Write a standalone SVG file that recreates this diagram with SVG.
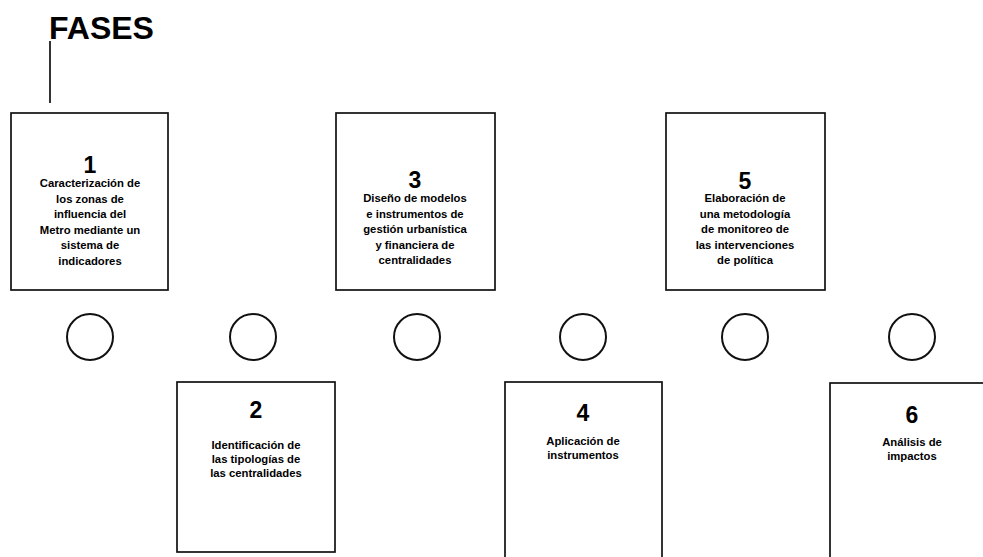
<svg xmlns="http://www.w3.org/2000/svg" width="983" height="557" viewBox="0 0 983 557">
<style>
.box{fill:#fff;stroke:#111;stroke-width:1.7}
.dot{fill:#fff;stroke:#111;stroke-width:2}
.num{font-family:"Liberation Sans",Arial,sans-serif;font-weight:bold;font-size:23px;fill:#000;text-anchor:middle}
.lbl{font-family:"Liberation Sans",Arial,sans-serif;font-weight:bold;font-size:11.3px;fill:#000;text-anchor:middle}
.title{font-family:"Liberation Sans",Arial,sans-serif;font-weight:bold;font-size:32px;fill:#000}
</style>
<rect width="983" height="557" fill="#fff"/>
<text class="title" x="49" y="39">FASES</text>
<g id="connectors">
<line x1="50" y1="41" x2="50" y2="103" stroke="#111" stroke-width="1.7"/>
</g>
<g id="phase1">
<rect class="box" x="11" y="113" width="157" height="177"/>
<text class="num" x="90" y="173">1</text>
<text class="lbl" x="90" y="187">Caracterización de</text>
<text class="lbl" x="90" y="202.5">los zonas de</text>
<text class="lbl" x="90" y="218">influencia del</text>
<text class="lbl" x="90" y="233.5">Metro mediante un</text>
<text class="lbl" x="90" y="249">sistema de</text>
<text class="lbl" x="90" y="264.5">indicadores</text>
</g>
<g id="phase3">
<rect class="box" x="336" y="113" width="159" height="177"/>
<text class="num" x="415" y="188">3</text>
<text class="lbl" x="415" y="202">Diseño de modelos</text>
<text class="lbl" x="415" y="217.5">e instrumentos de</text>
<text class="lbl" x="415" y="233">gestión urbanística</text>
<text class="lbl" x="415" y="248.5">y financiera de</text>
<text class="lbl" x="415" y="264">centralidades</text>
</g>
<g id="phase5">
<rect class="box" x="666" y="113" width="159" height="177"/>
<text class="num" x="745" y="189">5</text>
<text class="lbl" x="745" y="202">Elaboración de</text>
<text class="lbl" x="745" y="217.5">una metodología</text>
<text class="lbl" x="745" y="233">de monitoreo de</text>
<text class="lbl" x="745" y="248.5">las intervenciones</text>
<text class="lbl" x="745" y="264">de política</text>
</g>
<g id="markers">
<circle class="dot" cx="90" cy="337" r="23"/>
<circle class="dot" cx="253" cy="337" r="23"/>
<circle class="dot" cx="417" cy="337" r="23"/>
<circle class="dot" cx="583" cy="337" r="23"/>
<circle class="dot" cx="745" cy="337" r="23"/>
<circle class="dot" cx="912" cy="337" r="23"/>
</g>
<g id="phase2">
<rect class="box" x="177" y="382" width="158" height="170"/>
<text class="num" x="256" y="418">2</text>
<text class="lbl" x="256" y="449">Identificación de</text>
<text class="lbl" x="256" y="463">las tipologías de</text>
<text class="lbl" x="256" y="477">las centralidades</text>
</g>
<g id="phase4">
<rect class="box" x="505" y="382" width="157" height="185"/>
<text class="num" x="583" y="421">4</text>
<text class="lbl" x="583" y="445">Aplicación de</text>
<text class="lbl" x="583" y="459">instrumentos</text>
</g>
<g id="phase6">
<rect class="box" x="830" y="383" width="170" height="185"/>
<text class="num" x="912" y="423">6</text>
<text class="lbl" x="912" y="446">Análisis de</text>
<text class="lbl" x="912" y="460">impactos</text>
</g>
</svg>
